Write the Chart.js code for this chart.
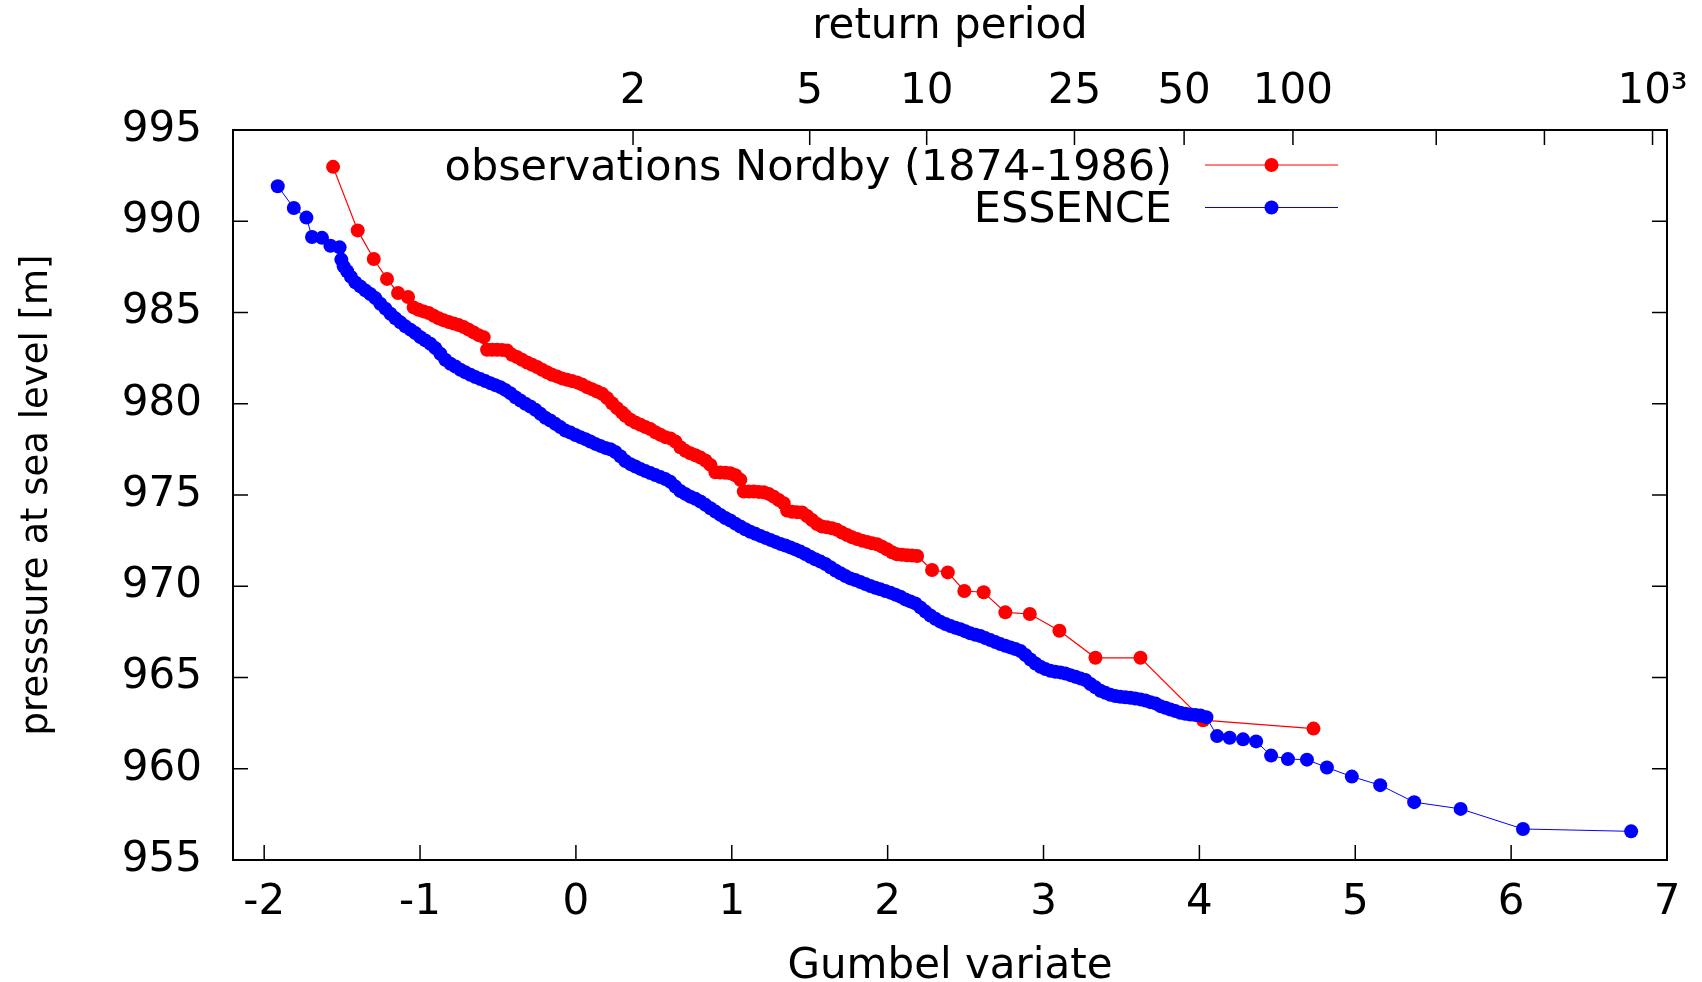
<!DOCTYPE html>
<html>
<head>
<meta charset="utf-8">
<title>Gumbel plot of annual minimum sea-level pressure</title>
<script src="https://cdn.jsdelivr.net/npm/chart.js@4/dist/chart.umd.min.js"></script>
<style>
  html, body { margin: 0; padding: 0; background: #ffffff; }
  #wrap { position: relative; width: 1702px; height: 982px; }
</style>
</head>
<body>
<div id="wrap"><canvas id="chart"></canvas></div>
<script>
// Observations Nordby (1874-1986): Gumbel variate and annual minimum pressure
const obsX = [
  -1.558, -1.400, -1.297, -1.212, -1.141, -1.077, -1.041, -1.009, -0.977, -0.944,
  -0.912, -0.880, -0.848, -0.816, -0.784, -0.752, -0.720, -0.688, -0.656, -0.624,
  -0.592, -0.570, -0.538, -0.506, -0.474, -0.442, -0.410, -0.378, -0.346, -0.313,
  -0.281, -0.249, -0.217, -0.185, -0.153, -0.121, -0.089, -0.057, -0.025, 0.007,
  0.039, 0.071, 0.103, 0.136, 0.168, 0.200, 0.232, 0.264, 0.296, 0.317,
  0.350, 0.382, 0.414, 0.446, 0.478, 0.510, 0.542, 0.574, 0.606, 0.638,
  0.670, 0.702, 0.734, 0.767, 0.799, 0.831, 0.863, 0.895, 0.927, 0.959,
  0.991, 1.023, 1.055, 1.077, 1.109, 1.141, 1.173, 1.205, 1.237, 1.269,
  1.301, 1.333, 1.355, 1.387, 1.419, 1.451, 1.483, 1.515, 1.547, 1.579,
  1.611, 1.643, 1.675, 1.707, 1.740, 1.772, 1.804, 1.836, 1.868, 1.900,
  1.932, 1.964, 1.996, 2.028, 2.060, 2.092, 2.125, 2.157, 2.189, 2.285,
  2.386, 2.492, 2.616, 2.755, 2.912, 3.102, 3.333, 3.622, 4.024, 4.732
];
const obsY = [
  992.98, 989.50, 987.93, 986.84, 986.07, 985.85, 985.28, 985.15, 985.06, 984.97,
  984.82, 984.68, 984.57, 984.48, 984.40, 984.31, 984.20, 984.06, 983.91, 983.76,
  983.65, 982.96, 982.96, 982.96, 982.95, 982.92, 982.68, 982.56, 982.41, 982.26,
  982.14, 982.01, 981.86, 981.73, 981.59, 981.50, 981.39, 981.31, 981.24, 981.17,
  981.06, 980.91, 980.80, 980.67, 980.55, 980.31, 980.03, 979.76, 979.52, 979.34,
  979.12, 978.97, 978.85, 978.72, 978.61, 978.44, 978.30, 978.17, 978.10, 977.93,
  977.62, 977.42, 977.29, 977.18, 977.05, 976.89, 976.65, 976.24, 976.23, 976.22,
  976.19, 976.08, 975.83, 975.19, 975.19, 975.19, 975.17, 975.15, 975.06, 974.91,
  974.73, 974.55, 974.15, 974.08, 974.06, 974.04, 973.85, 973.63, 973.41, 973.27,
  973.23, 973.18, 973.09, 972.94, 972.81, 972.68, 972.59, 972.50, 972.43, 972.35,
  972.30, 972.17, 972.03, 971.86, 971.75, 971.72, 971.70, 971.68, 971.66, 970.89,
  970.76, 969.74, 969.67, 968.57, 968.48, 967.56, 966.08, 966.08, 962.66, 962.20
];

// ESSENCE ensemble: Gumbel variate and annual minimum pressure
const essX = [
  -1.913, -1.810, -1.729, -1.693, -1.629, -1.575, -1.516, -1.505, -1.490, -1.468,
  -1.443, -1.415, -1.383, -1.351, -1.319, -1.287, -1.255, -1.222, -1.190, -1.158,
  -1.126, -1.094, -1.062, -1.030, -0.998, -0.966, -0.934, -0.902, -0.870, -0.838,
  -0.805, -0.773, -0.741, -0.709, -0.677, -0.645, -0.613, -0.581, -0.549, -0.517,
  -0.485, -0.453, -0.421, -0.388, -0.356, -0.324, -0.292, -0.260, -0.228, -0.196,
  -0.164, -0.132, -0.100, -0.068, -0.035, -0.003, 0.029, 0.061, 0.093, 0.125,
  0.157, 0.189, 0.221, 0.253, 0.285, 0.317, 0.350, 0.382, 0.414, 0.446,
  0.478, 0.510, 0.542, 0.574, 0.606, 0.638, 0.670, 0.702, 0.734, 0.767,
  0.799, 0.831, 0.863, 0.895, 0.927, 0.959, 0.991, 1.023, 1.055, 1.087,
  1.119, 1.152, 1.184, 1.216, 1.248, 1.280, 1.312, 1.344, 1.376, 1.408,
  1.440, 1.472, 1.504, 1.536, 1.569, 1.601, 1.633, 1.665, 1.697, 1.729,
  1.761, 1.793, 1.825, 1.857, 1.889, 1.921, 1.953, 1.985, 2.018, 2.050,
  2.082, 2.114, 2.146, 2.178, 2.210, 2.242, 2.274, 2.306, 2.338, 2.371,
  2.403, 2.435, 2.467, 2.499, 2.531, 2.563, 2.595, 2.627, 2.659, 2.691,
  2.723, 2.755, 2.788, 2.820, 2.852, 2.884, 2.916, 2.948, 2.980, 3.012,
  3.044, 3.076, 3.108, 3.140, 3.173, 3.205, 3.237, 3.269, 3.301, 3.333,
  3.365, 3.397, 3.429, 3.461, 3.493, 3.525, 3.557, 3.589, 3.622, 3.654,
  3.686, 3.718, 3.750, 3.782, 3.814, 3.846, 3.878, 3.910, 3.942, 3.975,
  4.007, 4.045, 4.114, 4.194, 4.280, 4.364, 4.460, 4.568, 4.690, 4.818,
  4.978, 5.160, 5.378, 5.676, 6.076, 6.770
];
const essY = [
  991.92, 990.73, 990.20, 989.14, 989.09, 988.66, 988.57, 987.90, 987.53, 987.26,
  986.95, 986.65, 986.43, 986.21, 986.01, 985.79, 985.48, 985.21, 984.93, 984.68,
  984.46, 984.24, 984.06, 983.87, 983.65, 983.47, 983.29, 983.05, 982.74, 982.41,
  982.19, 982.04, 981.86, 981.72, 981.59, 981.46, 981.35, 981.24, 981.13, 981.02,
  980.91, 980.76, 980.58, 980.36, 980.18, 980.00, 979.85, 979.67, 979.45, 979.23,
  979.08, 978.90, 978.72, 978.53, 978.42, 978.29, 978.17, 978.06, 977.93, 977.80,
  977.69, 977.58, 977.51, 977.36, 977.12, 976.86, 976.69, 976.56, 976.43, 976.31,
  976.20, 976.09, 975.98, 975.87, 975.72, 975.46, 975.22, 975.06, 974.91, 974.79,
  974.64, 974.46, 974.27, 974.09, 973.91, 973.74, 973.60, 973.43, 973.27, 973.12,
  972.99, 972.87, 972.76, 972.65, 972.54, 972.43, 972.32, 972.23, 972.13, 972.02,
  971.90, 971.77, 971.62, 971.48, 971.35, 971.22, 971.04, 970.86, 970.71, 970.56,
  970.43, 970.34, 970.23, 970.12, 970.01, 969.92, 969.83, 969.74, 969.65, 969.54,
  969.43, 969.28, 969.17, 969.06, 968.84, 968.61, 968.40, 968.22, 968.06, 967.93,
  967.82, 967.73, 967.64, 967.53, 967.42, 967.34, 967.27, 967.16, 967.05, 966.94,
  966.83, 966.74, 966.65, 966.56, 966.45, 966.23, 965.99, 965.77, 965.59, 965.46,
  965.37, 965.31, 965.28, 965.22, 965.13, 965.04, 964.95, 964.86, 964.64, 964.46,
  964.27, 964.16, 964.05, 963.98, 963.94, 963.92, 963.89, 963.85, 963.80, 963.74,
  963.65, 963.58, 963.43, 963.34, 963.25, 963.16, 963.07, 963.01, 962.97, 962.94,
  962.92, 962.82, 961.79, 961.70, 961.61, 961.50, 960.72, 960.53, 960.50, 960.07,
  959.57, 959.10, 958.17, 957.80, 956.70, 956.57
];

// Axis ticks
const xTickValues = [-2, -1, 0, 1, 2, 3, 4, 5, 6, 7];
const yTickValues = [955, 960, 965, 970, 975, 980, 985, 990, 995];
const returnPeriods = [2, 5, 10, 25, 50, 100, 250, 500, 1000];
const returnLabels = ['2', '5', '10', '25', '50', '100', '', '', '10\u00b3'];

// Reduced Gumbel variate belonging to a return period T (years)
const gumbelOf = T => -Math.log(-Math.log(1 - 1 / T));

const FONT = '"DejaVu Sans", "Liberation Sans", sans-serif';
const RED = '#ff0000';
const BLUE = '#0000ff';

const toPoints = (xs, ys) => xs.map((x, i) => ({ x: x, y: ys[i] }));

// Box frame with inward tick marks (left/right mirrored, return periods on top)
const framePlugin = {
  id: 'frame',
  beforeDatasetsDraw(chart) {
    const { ctx, chartArea: a, scales } = chart;
    const len = 15;
    ctx.save();
    ctx.strokeStyle = '#000';
    ctx.lineWidth = 1.5;
    ctx.beginPath();
    scales.x.ticks.forEach(t => {
      const px = scales.x.getPixelForValue(t.value);
      ctx.moveTo(px, a.bottom);
      ctx.lineTo(px, a.bottom - len);
    });
    scales.x2.ticks.forEach(t => {
      const px = scales.x2.getPixelForValue(t.value);
      ctx.moveTo(px, a.top);
      ctx.lineTo(px, a.top + len);
    });
    scales.y.ticks.forEach(t => {
      const py = scales.y.getPixelForValue(t.value);
      ctx.moveTo(a.left, py);
      ctx.lineTo(a.left + len, py);
      ctx.moveTo(a.right, py);
      ctx.lineTo(a.right - len, py);
    });
    ctx.stroke();
    ctx.lineWidth = 2;
    ctx.strokeRect(a.left, a.top, a.right - a.left, a.bottom - a.top);
    ctx.restore();
  }
};

// Key in the upper right of the plot: right-aligned text, then line sample with a dot
const keyPlugin = {
  id: 'key',
  afterDatasetsDraw(chart) {
    const { ctx, chartArea: a } = chart;
    const order = [0, 1];
    const textRight = a.right - 495;
    const lineStart = a.right - 462;
    const lineEnd = a.right - 329;
    const rowBaselines = [a.top + 50, a.top + 92];
    const rowMiddles = [a.top + 35, a.top + 77.5];
    ctx.save();
    order.forEach((di, row) => {
      const ds = chart.data.datasets[di];
      ctx.fillStyle = '#000';
      ctx.font = '43px ' + FONT;
      ctx.textAlign = 'right';
      ctx.textBaseline = 'alphabetic';
      ctx.fillText(ds.label, textRight, rowBaselines[row]);
      const y = rowMiddles[row];
      ctx.strokeStyle = ds.borderColor;
      ctx.lineWidth = ds.borderWidth;
      ctx.beginPath();
      ctx.moveTo(lineStart, y);
      ctx.lineTo(lineEnd, y);
      ctx.stroke();
      ctx.fillStyle = ds.pointBackgroundColor;
      ctx.beginPath();
      ctx.arc((lineStart + lineEnd) / 2, y, ds.pointRadius, 0, Math.PI * 2);
      ctx.fill();
    });
    ctx.restore();
  }
};

new Chart(document.getElementById('chart'), {
  type: 'scatter',
  data: {
    datasets: [
      {
        label: 'observations Nordby (1874-1986)',
        data: toPoints(obsX, obsY),
        showLine: true,
        borderColor: RED,
        borderWidth: 1.2,
        pointRadius: 7,
        pointHoverRadius: 7,
        pointBorderWidth: 0,
        pointBackgroundColor: RED,
        order: 2
      },
      {
        label: 'ESSENCE',
        data: toPoints(essX, essY),
        showLine: true,
        borderColor: BLUE,
        borderWidth: 1,
        pointRadius: 7,
        pointHoverRadius: 7,
        pointBorderWidth: 0,
        pointBackgroundColor: BLUE,
        order: 1
      }
    ]
  },
  options: {
    responsive: true,
    maintainAspectRatio: false,
    animation: false,
    devicePixelRatio: 1,
    events: [],
    layout: { padding: { left: 0, right: 35, top: 0, bottom: 0 } },
    plugins: {
      legend: { display: false },
      tooltip: { enabled: false }
    },
    scales: {
      x: {
        type: 'linear',
        position: 'bottom',
        min: -2.2,
        max: 7,
        afterBuildTicks: s => { s.ticks = xTickValues.map(v => ({ value: v })); },
        afterFit: s => { s.height = 122; },
        grid: { display: false, drawTicks: false },
        border: { display: false },
        ticks: {
          autoSkip: false,
          maxRotation: 0,
          padding: 18,
          color: '#000',
          font: { family: FONT, size: 42 },
          callback: v => String(v)
        },
        title: {
          display: true,
          text: 'Gumbel variate',
          color: '#000',
          font: { family: FONT, size: 42, lineHeight: 0.72 },
          padding: { top: 0, bottom: 0 }
        }
      },
      x2: {
        type: 'linear',
        position: 'top',
        min: -2.2,
        max: 7,
        afterBuildTicks: s => { s.ticks = returnPeriods.map(T => ({ value: gumbelOf(T) })); },
        afterFit: s => { s.height = 130; },
        grid: { display: false, drawTicks: false },
        border: { display: false },
        ticks: {
          autoSkip: false,
          maxRotation: 0,
          padding: 13,
          color: '#000',
          font: { family: FONT, size: 42 },
          callback: (v, i) => returnLabels[i]
        },
        title: {
          display: true,
          text: 'return period',
          color: '#000',
          font: { family: FONT, size: 42, lineHeight: 0.8 },
          padding: { top: 10, bottom: 0 }
        }
      },
      y: {
        type: 'linear',
        position: 'left',
        min: 955,
        max: 995,
        afterBuildTicks: s => { s.ticks = yTickValues.map(v => ({ value: v })); },
        afterFit: s => { s.width = 233; },
        grid: { display: false, drawTicks: false },
        border: { display: false },
        ticks: {
          padding: 31,
          color: '#000',
          font: { family: FONT, size: 42 },
          callback: v => String(v)
        },
        title: {
          display: true,
          text: 'presssure at sea level [m]',
          color: '#000',
          font: { family: FONT, size: 37, lineHeight: 0.8 },
          padding: { top: 23, bottom: 0 }
        }
      }
    }
  },
  plugins: [framePlugin, keyPlugin]
});
</script>
</body>
</html>
